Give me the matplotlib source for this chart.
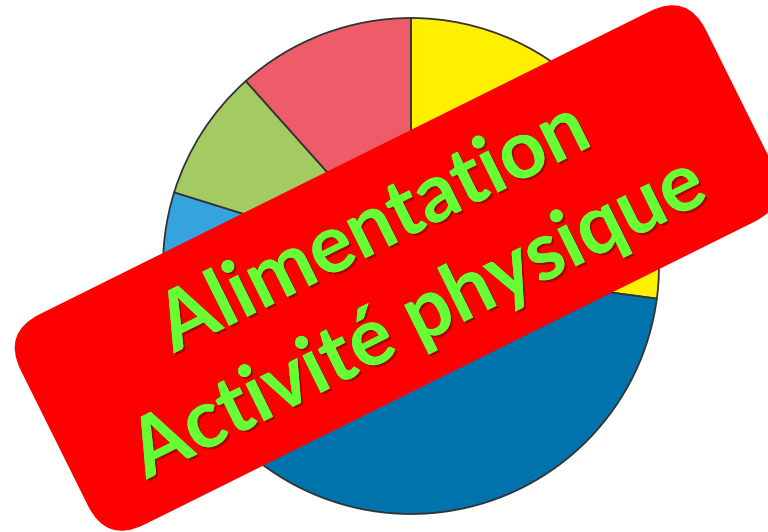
import numpy as np
import matplotlib
matplotlib.use('Agg')
import matplotlib.pyplot as plt
from matplotlib.patches import FancyBboxPatch
from matplotlib.transforms import Affine2D
import matplotlib.patheffects as pe

# pie shares (percent), clockwise from 12 o'clock
labels = ['jaune', 'bleu fonce', 'bleu clair', 'vert', 'rouge']
shares = [27.1, 41.0, 11.7, 8.6, 11.6]
colors = ['#FFEF00', '#0072AC', '#35A4DD', '#A3CB62', '#EF5C69']

banner_lines = ['Alimentation', 'Activité physique']

W, H = 768, 532
fig = plt.figure(figsize=(W/100, H/100), dpi=100)
ax = fig.add_axes([0, 0, 1, 1])

ax.pie(shares, colors=colors, startangle=90, counterclock=False,
       center=(411, 266), radius=248, frame=True,
       wedgeprops=dict(edgecolor='#333333', linewidth=1.3))
ax.set_xlim(0, W)
ax.set_ylim(0, H)
ax.set_aspect('equal')
ax.axis('off')

# red rotated banner
ang = 26.4
cx, cy = 397, H - 268
bw, bh = 765, 235
rot = Affine2D().rotate_deg_around(cx, cy, ang) + ax.transData
banner = FancyBboxPatch((cx - bw/2, cy - bh/2), bw, bh,
                        boxstyle='round,pad=0,rounding_size=42',
                        facecolor='#FF0000', edgecolor='none', transform=rot, zorder=5)
ax.add_patch(banner)

# text: fit width to the banner lines (Calibri is narrower, so a bit bigger)
base_pts = [((178, 349), (590, 149)), ((161, 474), (696, 205))]
fig.canvas.draw()
r = fig.canvas.get_renderer()
sizes = []
for s, (p0, p1) in zip(banner_lines, base_pts):
    t = ax.text(0, 0, s, fontsize=10, fontfamily='Lato', fontweight='bold')
    w = t.get_window_extent(r).width
    t.remove()
    target = np.hypot(p1[0] - p0[0], p1[1] - p0[1])
    sizes.append(10 * target / w)
fs = np.mean(sizes) * 1.04

shadow = [pe.withSimplePatchShadow(offset=(1.5, -1.5), shadow_rgbFace='#6a0000', alpha=0.55), pe.Normal()]
for s, (p0, p1) in zip(banner_lines, base_pts):
    mx = (p0[0] + p1[0]) / 2
    my = H - (p0[1] + p1[1]) / 2
    ax.text(mx, my, s, fontsize=fs, fontfamily='Lato', fontweight='bold',
            color='#66FF33', ha='center', va='baseline', rotation=ang,
            rotation_mode='anchor', zorder=6, path_effects=shadow)

fig.savefig('out.png', dpi=100)
